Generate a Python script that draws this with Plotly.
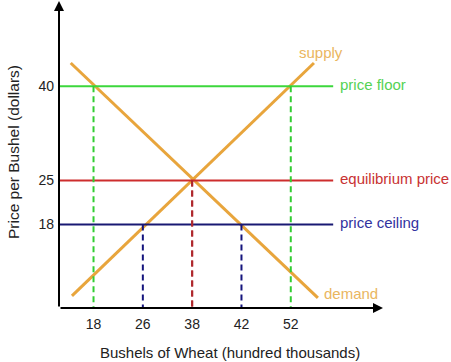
import numpy as np
import plotly.graph_objects as go

# ---- data ----
qty_ticks = [18, 26, 38, 42, 52]          # bushels of wheat (hundred thousands)
price_ticks = [40, 25, 18]                # dollars per bushel
price_names = ["price floor", "equilibrium price", "price ceiling"]

# quantity demanded / supplied at each price level
demand_qty = [18, 38, 42]
demand_price = [40, 25, 18]
supply_qty = [26, 38, 52]
supply_price = [18, 25, 40]

# drawn extent of the two curves
demand_end_qty = [14.3, 57.5]
demand_end_price = [43.7, 6.3]
supply_end_qty = [14.5, 56.7]
supply_end_price = [6.6, 43.7]
level_line_end_qty = 60.6

# ---- styles ----
FONT = "Liberation Sans, Arial, sans-serif"
ORANGE = "rgb(232,165,60)"
ORANGE_TXT = "rgb(234,182,96)"
level_line_colors = ["rgb(60,215,60)", "rgb(205,45,45)", "rgb(25,25,115)"]
level_text_colors = ["rgb(85,210,85)", "rgb(200,50,50)", "rgb(50,50,160)"]
dash_colors = {40: "rgb(50,205,50)", 25: "rgb(175,40,45)", 18: "rgb(20,20,125)"}


def qpos(q):
    """schematic (evenly spaced) position of a quantity on the x axis"""
    t = qty_ticks
    n = len(t)
    if q < t[0]:
        return (q - t[0]) / (t[1] - t[0])
    if q > t[-1]:
        return n - 1 + (q - t[-1]) / (t[-1] - t[-2])
    return float(np.interp(q, t, np.arange(n)))


x_range = [-0.70, 5.87]
y_range = [4.68, 53.58]

fig = go.Figure()

# supply & demand curves
fig.add_trace(go.Scatter(x=[qpos(q) for q in demand_end_qty], y=demand_end_price,
                         mode="lines", line=dict(color=ORANGE, width=3), hoverinfo="skip"))
fig.add_trace(go.Scatter(x=[qpos(q) for q in supply_end_qty], y=supply_end_price,
                         mode="lines", line=dict(color=ORANGE, width=3), hoverinfo="skip"))

# price level lines
for p, name, lc, tc in zip(price_ticks, price_names, level_line_colors, level_text_colors):
    x_end = qpos(level_line_end_qty)
    fig.add_trace(go.Scatter(x=[x_range[0], x_end], y=[p, p], mode="lines",
                             line=dict(color=lc, width=2), hoverinfo="skip"))
    fig.add_annotation(x=x_end, y=p, text=name, showarrow=False, xanchor="left",
                       yanchor="middle", xshift=5, yshift=2,
                       font=dict(family=FONT, size=15, color=tc))

# dashed drop lines
for qs, ps in ((demand_qty, demand_price), (supply_qty, supply_price)):
    for q, p in zip(qs, ps):
        fig.add_trace(go.Scatter(x=[qpos(q), qpos(q)], y=[p, y_range[0]], mode="lines",
                                 line=dict(color=dash_colors[p], width=2, dash="6px,4px"),
                                 hoverinfo="skip"))

# curve labels
fig.add_annotation(x=qpos(supply_end_qty[1]), y=supply_end_price[1], text="supply",
                   showarrow=False, xanchor="center", yanchor="middle", xshift=7, yshift=11,
                   font=dict(family=FONT, size=15, color=ORANGE_TXT))
fig.add_annotation(x=qpos(demand_end_qty[1]), y=demand_end_price[1], text="demand",
                   showarrow=False, xanchor="left", yanchor="middle", xshift=4, yshift=4,
                   font=dict(family=FONT, size=15, color=ORANGE_TXT))

# axes with arrowheads
fig.add_annotation(x=x_range[1], y=y_range[0], ax=x_range[0], ay=y_range[0],
                   xref="x", yref="y", axref="x", ayref="y", text="", showarrow=True,
                   arrowhead=2, arrowsize=1, arrowwidth=2, arrowcolor="black")
fig.add_annotation(x=x_range[0], y=y_range[1], ax=x_range[0], ay=y_range[0],
                   xref="x", yref="y", axref="x", ayref="y", text="", showarrow=True,
                   arrowhead=2, arrowsize=1, arrowwidth=2, arrowcolor="black")

# axis titles
fig.add_annotation(xref="paper", yref="paper", x=0, y=0.508, xshift=-46,
                   text="Price per Bushel (dollars)", textangle=-90, showarrow=False,
                   xanchor="center", yanchor="middle",
                   font=dict(family=FONT, size=15.5, color="#222"))
fig.add_annotation(xref="paper", yref="paper", x=0.528, y=0, yshift=-44,
                   text="Bushels of Wheat (hundred thousands)", showarrow=False,
                   xanchor="center", yanchor="middle",
                   font=dict(family=FONT, size=15, color="#222"))

fig.update_layout(
    width=451, height=362,
    margin=dict(l=59, r=68, t=1, b=54),
    paper_bgcolor="white", plot_bgcolor="white",
    showlegend=False,
    xaxis=dict(range=x_range, tickvals=[qpos(q) for q in qty_ticks],
               ticktext=[str(q) for q in qty_ticks], showgrid=False, zeroline=False,
               showline=False, ticks="", ticklabelstandoff=6,
               tickfont=dict(family=FONT, size=14, color="#222"), fixedrange=True),
    yaxis=dict(range=y_range, tickvals=price_ticks, ticktext=[str(p) for p in price_ticks],
               showgrid=False, zeroline=False, showline=False, ticks="", ticklabelstandoff=4,
               tickfont=dict(family=FONT, size=14, color="#222"), fixedrange=True),
)

fig.write_html("out.html", config={"displayModeBar": False})
